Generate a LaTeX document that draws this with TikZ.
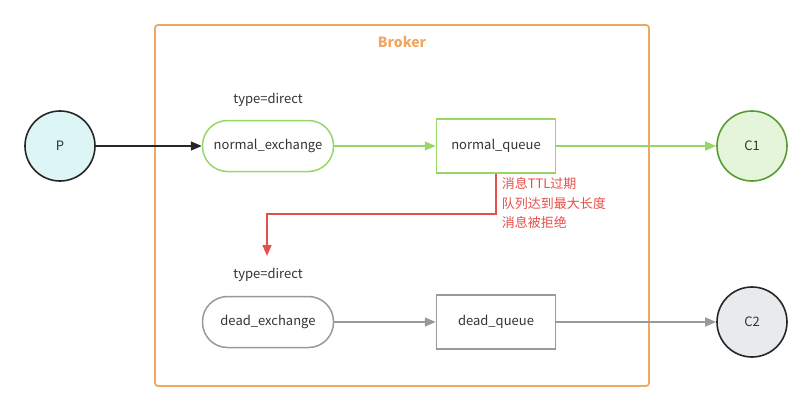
\documentclass[tikz,border=0pt]{standalone}
\usepackage{fontspec}
\setmainfont{Noto Sans CJK SC}
\usetikzlibrary{arrows.meta, positioning}
\definecolor{brokerc}{HTML}{F0A860}
\definecolor{greenc}{HTML}{97D76A}
\definecolor{darkgreen}{HTML}{5A9A35}
\definecolor{grayc}{HTML}{999999}
\definecolor{redc}{HTML}{E5504A}
\definecolor{txt}{HTML}{333333}
\definecolor{pfill}{HTML}{DDF5F5}
\definecolor{cfill}{HTML}{E5F5DA}
\definecolor{dfill}{HTML}{E8EBEE}
\tikzset{
  client/.style={draw=black!85,line width=1.6pt,circle,minimum size=70pt,inner sep=0pt,text=txt},
  exch/.style={line width=1.5pt,rounded corners=25pt,minimum width=131pt,minimum height=51pt,inner sep=0pt,text=txt},
  queue/.style={line width=1.5pt,minimum width=119pt,minimum height=54pt,inner sep=0pt,text=txt},
  tip/.style={-{Triangle[length=11pt,width=9pt]}}
}
\begin{document}
\begin{tikzpicture}[x=1pt,y=-1pt,line width=1.5pt,every node/.style={font=\fontsize{13}{16}\selectfont}]
  \useasboundingbox (0,0) rectangle (812,412);
  \draw[brokerc,line width=1.8pt,rounded corners=3pt] (155,25) rectangle (649,386);
  \path (402,42) node[text=brokerc,font=\fontsize{14}{16}\selectfont\bfseries] (broker) {Broker}
  (60,146) node[client,fill=pfill] (p) {P}
  (268,146) node[exch,draw=greenc] (nex) {normal\_exchange}
  (268,100) node[text=txt] (ntype) {type=direct}
  (496,146) node[queue,draw=greenc] (nq) {normal\_queue}
  (752,146) node[client,draw=darkgreen,fill=cfill] (c1) {C1}
  (268,322) node[exch,draw=grayc] (dex) {dead\_exchange}
  (268,275) node[text=txt] (dtype) {type=direct}
  (496,322) node[queue,draw=grayc] (dq) {dead\_queue}
  (752,322) node[client,fill=dfill] (c2) {C2};
  \coordinate (dl) at (267,256);
  \draw[tip,black!85] (p) -- (nex);
  \draw[tip,greenc] (nex) -- (nq);
  \draw[tip,greenc] (nq) -- (c1);
  \draw[tip,grayc] (dex) -- (dq);
  \draw[tip,grayc] (dq) -- (c2);
  % dead letter route
  \draw[tip,redc] (nq.south) -- ++(0,40) -| (dl);
  \node[text=redc,align=left,anchor=north west,inner sep=0pt,font=\fontsize{13}{19.5}\selectfont] (why) at (501,177) {消息TTL过期\\队列达到最大长度\\消息被拒绝};
\end{tikzpicture}
\end{document}
